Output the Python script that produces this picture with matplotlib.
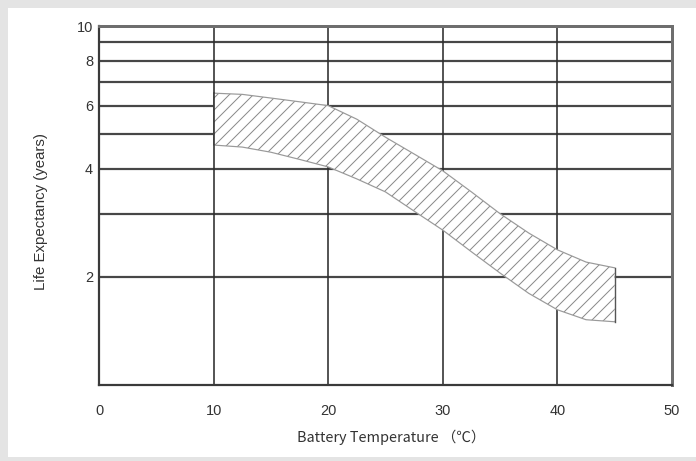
import matplotlib.pyplot as plt
from matplotlib.patches import Rectangle

# band of expected life vs battery temperature
temps = [10, 12.5, 15, 17.5, 20, 22.5, 25, 27.5, 30, 32.5, 35, 37.5, 40, 42.5, 45]
life_upper = [6.5, 6.45, 6.3, 6.15, 6.0, 5.5, 4.9, 4.4, 3.95, 3.45, 3.0, 2.65, 2.38, 2.2, 2.12]
life_lower = [4.66, 4.6, 4.45, 4.25, 4.05, 3.75, 3.45, 3.05, 2.7, 2.35, 2.05, 1.8, 1.62, 1.52, 1.5]

x_ticks = [0, 10, 20, 30, 40, 50]
y_ticks = [2, 4, 6, 8, 10]
y_grid = [2, 3, 4, 5, 6, 7, 8, 9]

plt.rcParams['font.family'] = ['Liberation Sans', 'DejaVu Sans']
plt.rcParams['hatch.linewidth'] = 1.0
plt.rcParams['hatch.color'] = '#8a8a8a'

# dpi 72 so the hatch spacing comes out close to the original
fig = plt.figure(figsize=(696 / 72, 461 / 72), dpi=72)
fig.patch.set_facecolor('#e4e4e4')
fig.patches.append(Rectangle((8 / 696, 4 / 461), 1, 1 - 12 / 461, transform=fig.transFigure,
                             facecolor='white', edgecolor='none', zorder=-10))

ax = fig.add_axes([99 / 696, 1 - 385 / 461, 573 / 696, 359 / 461])
ax.set_yscale('log')
ax.set_xlim(0, 50)
ax.set_ylim(1, 10)

for yv in y_grid:
    ax.axhline(yv, color='#474747', lw=2.2, zorder=1)
for xv in x_ticks[1:-1]:
    ax.axvline(xv, color='#2e2e2e', lw=1.6, zorder=1)

ax.fill_between(temps, life_lower, life_upper, facecolor='white', edgecolor='#8a8a8a',
                hatch='//', lw=0, zorder=2)
ax.plot(temps, life_upper, color='#9a9a9a', lw=1.2, zorder=3)
ax.plot(temps, life_lower, color='#9a9a9a', lw=1.2, zorder=3)
ax.plot([temps[-1], temps[-1]], [life_lower[-1], life_upper[-1]], color='#555555', lw=1.4, zorder=3)
ax.plot([temps[0], temps[0]], [life_lower[0], life_upper[0]], color='#2e2e2e', lw=1.6, zorder=3)

for side in ['left', 'bottom']:
    ax.spines[side].set_color('#3a3a3a')
    ax.spines[side].set_linewidth(2.2)
for side in ['top', 'right']:
    ax.spines[side].set_color('#6e6e6e')
    ax.spines[side].set_linewidth(3)

ax.set_xticks(x_ticks)
ax.set_xticklabels([str(v) for v in x_ticks])
ax.set_yticks(y_ticks)
ax.set_yticklabels([str(v) for v in y_ticks])
ax.minorticks_off()
ax.tick_params(axis='both', length=0, labelsize=14.5, colors='#333333')
ax.tick_params(axis='x', pad=19)
ax.tick_params(axis='y', pad=6)

ax.set_xlabel('Battery Temperature （℃）', fontsize=14.5, color='#333333',
              family=['Noto Sans CJK SC', 'Liberation Sans'])
ax.set_ylabel('Life Expectancy (years)', fontsize=15, color='#333333')
ax.xaxis.set_label_coords(0.51, -0.145)
ax.yaxis.set_label_coords(-0.101, 0.482)
ax.xaxis.label.set_va('center')
ax.yaxis.label.set_va('center')

fig.savefig('out.png', dpi=72, facecolor=fig.get_facecolor())
